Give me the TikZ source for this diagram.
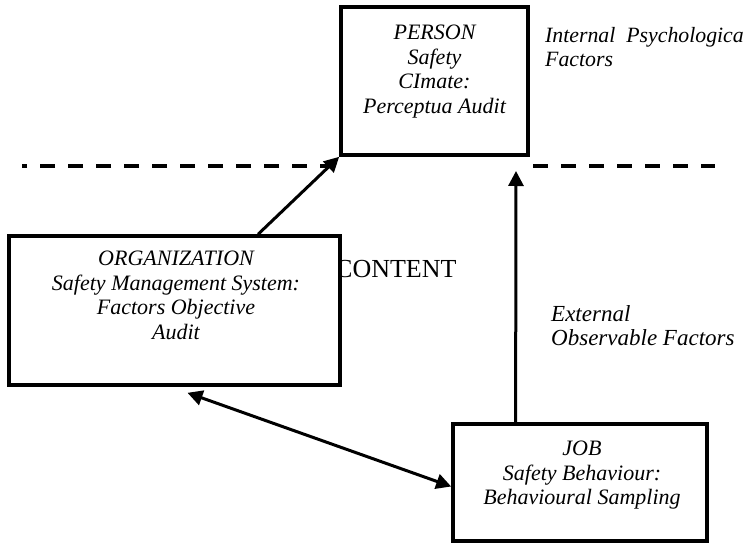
\documentclass[tikz,border=0pt]{standalone}
\usepackage{fontspec}
\setmainfont{Liberation Serif}
\usetikzlibrary{arrows.meta,calc}
\begin{document}
\begin{tikzpicture}[x=1pt,y=-1pt,
        box/.style={draw,line width=3.6pt,fill=white,inner sep=0pt},
        boxtext/.style={anchor=north,align=center,inner sep=0pt,font=\fontsize{22}{24.5}\selectfont\itshape},
        sidetext/.style={anchor=north west,align=left,inner sep=0pt,font=\fontsize{23}{24}\selectfont\itshape},
        link/.style={line width=3pt,-{Triangle[length=15pt,width=15pt]}},
        divider/.style={line width=3.8pt,dash pattern=on 15pt off 13pt}]
        \useasboundingbox (0,0) rectangle (747,546);

        \node[anchor=base west,inner sep=0pt,font=\fontsize{26}{28}\selectfont] (content) at (335,277) {CONTENT};

        \draw[divider] (335,166) -- (22,166);
        \draw[divider] (533,166) -- (715,166);

        \node[box,minimum width=187pt,minimum height=148pt] (person) at (434.5,81) {};
        \node[boxtext] (personlabel) at (434.5,25) {PERSON\\Safety\\CImate:\\Perceptua Audit};

        \node[box,minimum width=331pt,minimum height=149pt] (org) at (174.5,310.5) {};
        \node[boxtext] (orglabel) at (176,251) {ORGANIZATION\\Safety Management System:\\Factors Objective\\Audit};

        \node[box,minimum width=254pt,minimum height=117pt] (job) at (580,482.5) {};
        \node[boxtext] (joblabel) at (582,441) {JOB\\Safety Behaviour:\\Behavioural Sampling};

        \node[sidetext,font=\fontsize{21.8}{24}\selectfont\itshape] (internal) at (545,27) {Internal\ \ Psychologica\\Factors};
        \node[sidetext] (external) at (551,305) {External\\Observable Factors};

        \coordinate (upend) at (516,171);

        \draw[link] ($(org.north west)!0.75!(org.north east)$) -- (person.south west);
        \draw[link] ($(job.north west)!0.25!(job.north east)$) -- (upend);
        \draw[link,{Triangle[length=15pt,width=15pt]}-{Triangle[length=15pt,width=15pt]}] ([xshift=13pt,yshift=-6pt]org.south) -- ([yshift=-4pt]job.west);

    \end{tikzpicture}
\end{document}
